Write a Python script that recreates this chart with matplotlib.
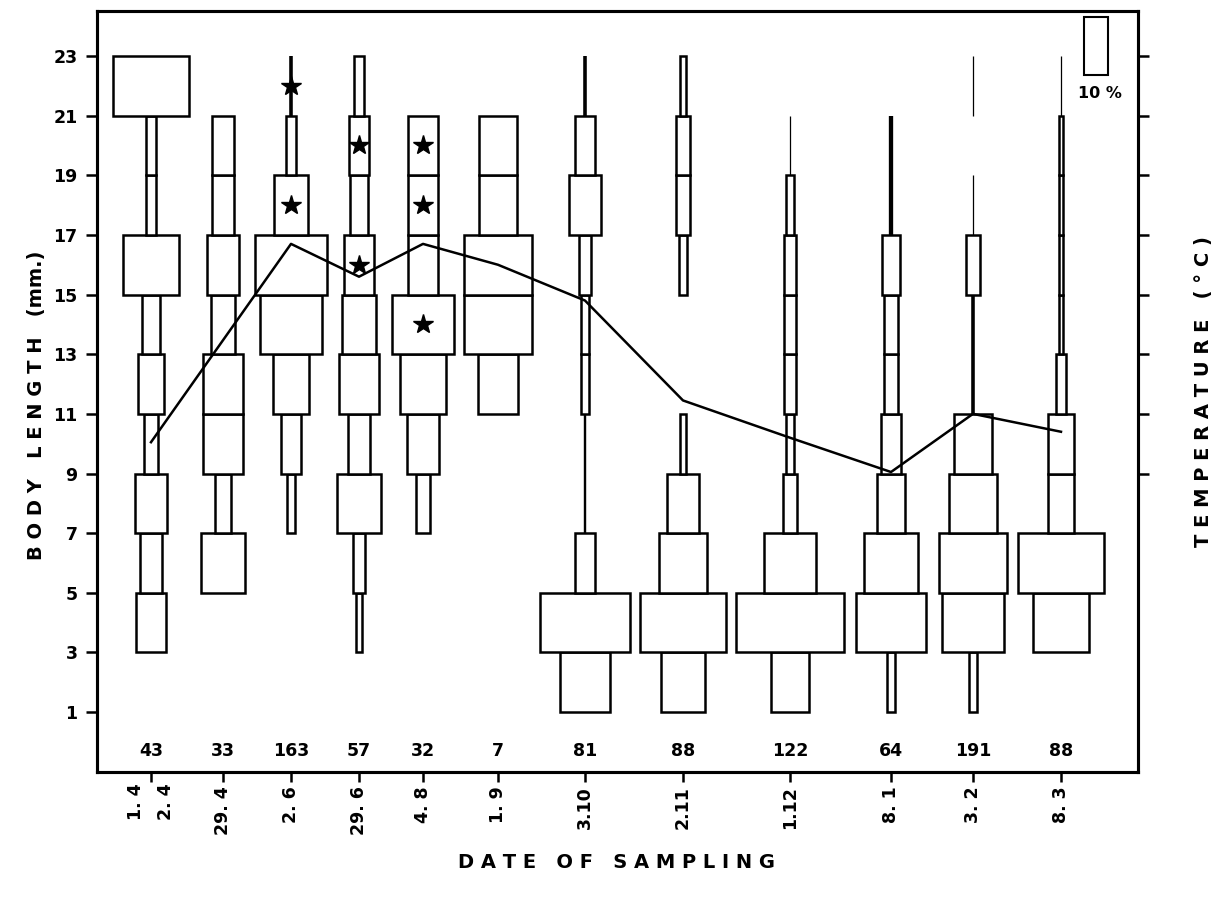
import numpy as np
import matplotlib.pyplot as plt

plt.rcParams.update({
    "font.family": ["DejaVu Sans"],
    "font.weight": "bold",
})

# sampling dates (x tick labels) and where they sit along the axis
dates = ["", "29. 4", "2. 6", "29. 6", "4. 8", "1. 9", "3.10", "2.11", "1.12", "8. 1", "3. 2", "8. 3"]
first_pair = ["1. 4", "2. 4"]
x_pos = [151, 223, 291, 359, 423, 498, 585, 683, 790, 891, 973, 1061]
first_pair_x = [136, 166]

# number of animals measured per sample
n_animals = [43, 33, 163, 57, 32, 7, 81, 88, 122, 64, 191, 88]

# 2 mm length classes (lower bound), percent of sample in each class
class_low = [1, 3, 5, 7, 9, 11, 13, 15, 17, 19, 21]
pct_0104 = [0, 12.5, 9.5, 13, 5.5, 10.5, 7.5, 23, 4, 4, 32]
pct_2904 = [0, 0, 18.5, 7, 16.5, 17, 10, 13.5, 9.5, 9.5, 0]
pct_0206 = [0, 0, 0, 3.5, 8, 15, 26, 30, 14, 4.5, 1.5]
pct_2906 = [0, 2.8, 5, 18, 9.5, 17, 14.5, 12.5, 7.5, 8.5, 4.5]
pct_0408 = [0, 0, 0, 6, 13, 19, 26, 12.5, 12.5, 12.5, 0]
pct_0109 = [0, 0, 0, 0, 0, 16.5, 28, 28, 15.5, 15.5, 0]
pct_0310 = [20.5, 37.5, 8, 1, 1, 3, 3, 5, 13, 8, 1.5]
pct_0211 = [18.5, 36, 20, 13, 2.5, 0, 0, 3, 6, 6, 2.5]
pct_0112 = [16, 45, 22, 5.5, 3, 5, 5, 5, 3, 0.5, 0]
pct_0801 = [3.5, 29.5, 22.5, 12, 8.5, 6, 6, 7.5, 1.8, 1.8, 0]
pct_0302 = [3.5, 25.5, 28, 20, 16, 1.5, 1.5, 5.5, 0.5, 0, 0.5]
pct_0803 = [0, 23, 36, 10.5, 10.5, 4.5, 2, 2, 2, 2, 0.5]
all_pct = [pct_0104, pct_2904, pct_0206, pct_2906, pct_0408, pct_0109,
           pct_0310, pct_0211, pct_0112, pct_0801, pct_0302, pct_0803]

# marked (starred) length classes: sample index, class midpoint
star_sample = [2, 2, 3, 3, 4, 4, 4]
star_len = [22, 18, 20, 16, 20, 18, 14]

# water temperature, drawn on the (unlabelled) right axis
temp = [10.05, np.nan, 16.7, 15.6, 16.7, 16.0, 14.8, 11.45, 10.2, 9.05, 11.0, 10.4]

PX_PER_PCT = 2.4   # x data units are pixels; 10 % = 24 px
W, H = 1221, 897

fig = plt.figure(figsize=(W / 100, H / 100), dpi=100)
ax = fig.add_axes([97 / W, (H - 772) / H, (1138 - 97) / W, (772 - 11) / H])
ax.set_xlim(97, 1138)
ax.set_ylim(-1.01, 24.51)

for xc, pcts in zip(x_pos, all_pct):
    for lo, p in zip(class_low, pcts):
        if p <= 0:
            continue
        w = p * PX_PER_PCT
        if p < 2:
            ax.vlines(xc, lo, lo + 2, color="black", lw=max(0.9, w / 1.39), zorder=2)
        else:
            ax.bar(xc, 2, width=w, bottom=lo, align="center", facecolor="white",
                   edgecolor="black", linewidth=1.8, zorder=2)

# temperature curve
tx = [x for x, t in zip(x_pos, temp) if not np.isnan(t)]
ty = [t for t in temp if not np.isnan(t)]
ax.plot(tx, ty, color="black", lw=1.8, zorder=4)

# stars
ax.plot([x_pos[i] for i in star_sample], star_len, linestyle="none", marker="*",
        markersize=15, color="black", zorder=5)

# sample sizes
for xc, n in zip(x_pos, n_animals):
    ax.text(xc, -0.31, str(n), ha="center", va="center", fontsize=12.5, fontweight="bold")

# scale box for 10 %
ax.bar(1096, 1.95, width=10 * PX_PER_PCT, bottom=22.35, align="center",
       facecolor="white", edgecolor="black", linewidth=1.5, zorder=2)
ax.text(1100, 21.75, "10 %", ha="center", va="center", fontsize=11.5, fontweight="bold")

# axes styling
for s in ax.spines.values():
    s.set_linewidth(2.2)
ax.set_yticks(range(1, 24, 2))
ax.set_yticklabels([str(v) for v in range(1, 24, 2)], fontsize=12.5, fontweight="bold")
ax.tick_params(axis="y", direction="out", length=8, width=1.8, pad=6)
ax.set_xticks(x_pos)
ax.set_xticklabels(dates, rotation=90, fontsize=12.5, fontweight="bold")
ax.set_xticks(first_pair_x, minor=True)
ax.set_xticklabels(first_pair, minor=True, rotation=90, fontsize=12.5, fontweight="bold")
ax.tick_params(axis="x", which="major", direction="out", length=7, width=1.8, pad=3)
ax.tick_params(axis="x", which="minor", length=0, pad=8)
for lab in ax.get_xticklabels(minor=False) + ax.get_xticklabels(minor=True):
    lab.set_va("top")

ax2 = ax.twinx()
ax2.set_ylim(ax.get_ylim())
ax2.set_yticks(range(9, 24, 2))
ax2.set_yticklabels([])
ax2.tick_params(axis="y", direction="out", length=8, width=1.8)
for s in ax2.spines.values():
    s.set_linewidth(2.2)

fig.text(37 / W, 1 - 405 / H, "B O D Y   L E N G T H   (mm.)", rotation=90,
         ha="center", va="center", fontsize=14, fontweight="bold")
fig.text(1204 / W, 1 - 392 / H, "T E M P E R A T U R E   ( ° C )", rotation=90,
         ha="center", va="center", fontsize=14, fontweight="bold")
fig.text(617 / W, 1 - 862 / H, "D A T E   O F   S A M P L I N G",
         ha="center", va="center", fontsize=14, fontweight="bold")

fig.savefig("out.png", dpi=100)
